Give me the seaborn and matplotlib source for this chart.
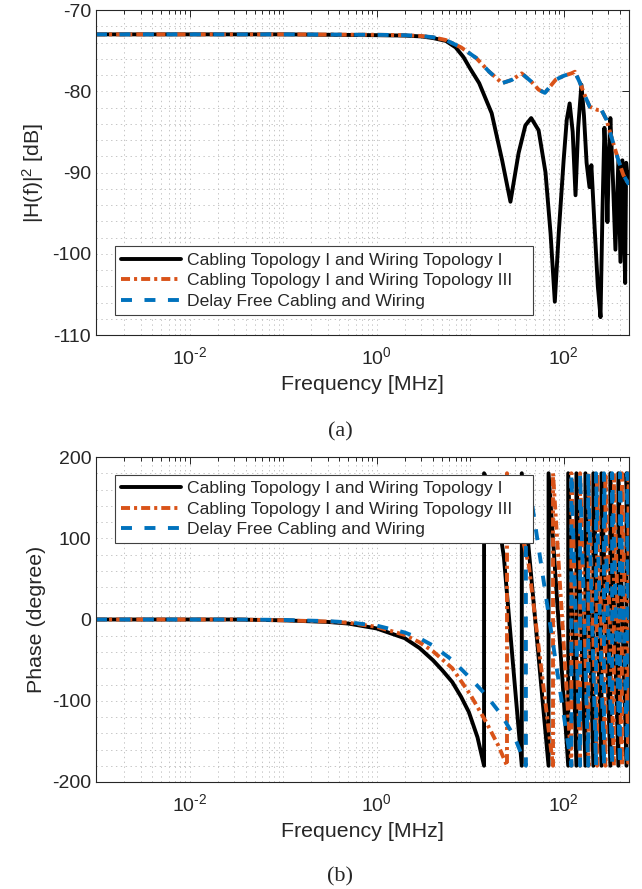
import numpy as np
import pandas as pd
import seaborn as sns
import matplotlib
matplotlib.use('Agg')
import matplotlib.pyplot as plt
from matplotlib.ticker import FixedLocator, FixedFormatter, LogLocator, MultipleLocator, NullFormatter

# series names / colours (MATLAB defaults)
names = ['Cabling Topology I and Wiring Topology I',
         'Cabling Topology I and Wiring Topology III',
         'Delay Free Cabling and Wiring']
colors = ['black', '#D95319', '#0072BD']

# (a) magnitude |H(f)|^2 in dB, frequency in MHz
mag_f_topo1 = [0.001, 0.1, 1, 2, 3, 4, 5.5, 7, 8.5, 10, 12.5, 17, 22, 27, 33, 39, 45, 54, 64,
               72.5, 80.5, 88.6, 100, 108, 116, 125, 134, 143, 155, 165, 176, 189, 198, 215,
               232, 248, 260, 273, 285, 294, 305, 316, 337, 358, 385, 405, 425, 455, 466, 490, 500]
mag_db_topo1 = [-73, -73, -73.1, -73.15, -73.25, -73.45, -73.8, -74.6, -75.8, -77.2, -79, -82.7,
                -88.5, -93.6, -87.6, -84.2, -83.3, -84.8, -90, -97.5, -105.9, -97.5, -88.5, -83.5,
                -81.5, -85, -92.8, -84.5, -79.2, -83, -88.8, -91.8, -89.1, -97, -104, -107.8, -95,
                -84.5, -89, -96.1, -88, -83.3, -91, -99.5, -88.5, -101, -88.5, -103.6, -88.8, -91.3, -90]

mag_f_topo3 = [0.001, 0.1, 1, 2, 3, 4, 5.5, 8, 11.6, 16, 22, 28, 35.6, 45, 54, 63, 82, 100,
               121, 132, 150, 171, 190, 208, 230, 254, 287, 324, 385, 435, 500]
mag_db_topo3 = [-73, -73, -73.05, -73.1, -73.2, -73.35, -73.7, -74.6, -75.9, -77.6, -79, -78.6,
                -77.8, -78.8, -79.8, -80.2, -78.6, -78.1, -77.8, -77.6, -79, -80.7, -81.9, -82.1,
                -82.3, -82.3, -83.5, -85.6, -88.5, -90.3, -91.5]

mag_f_free = list(mag_f_topo3)
mag_db_free = list(mag_db_topo3)

# (b) phase in degrees: smooth low-frequency part, then wrap frequencies (-180 -> 180)
ph_f_topo1 = [0.001, 0.03, 0.1, 0.3, 0.5, 1, 2, 2.87, 4, 5, 6.45, 8, 9.7, 12, 14.1,
              14.1, 17, 20, 23, 28.6, 35.7]
ph_deg_topo1 = [0, 0, -1, -3, -5, -11, -23, -35, -50, -62, -77, -95, -114, -145, -180,
                180, 160, 125, 76, -52, -180]
wrap_topo1 = [35.7, 69, 112, 137, 171, 208, 254, 316, 385, 470]

ph_f_topo3 = [0.001, 0.03, 0.1, 0.3, 0.5, 1, 2, 2.87, 4, 6.45, 10, 14.8, 20, 24.8,
              24.8, 28, 33, 42.4, 77]
ph_deg_topo3 = [0, 0, -1, -2.5, -4, -9, -19, -28, -39, -60, -92, -126, -155, -180,
                180, 160, 120, 67, -180]
wrap_topo3 = [77, 121, 150, 185, 228, 280, 345, 420, 495]

ph_f_free = [0.001, 0.03, 0.1, 0.3, 0.5, 1, 2, 2.87, 4, 6.45, 10, 14.8, 21.8, 30, 39.5,
             39.5, 42.4, 121]
ph_deg_free = [0, 0, -0.5, -2, -3.5, -7.5, -16, -23, -32, -50, -72, -93, -118, -145, -180,
               180, 169, -180]
wrap_free = [121, 150, 183, 222, 270, 330, 400, 480]
end_deg = [60, 150, 0]   # where each sawtooth is cut at 500 MHz

xtick_vals = [1e-2, 1, 1e2]
xtick_labels = [r'10$^{\text{-}2}$', r'10$^{0}$', r'10$^{2}$']


def phase_frame(f, deg, wraps, last):
    ff, dd = list(f), list(deg)
    for a, b in zip(wraps[:-1], wraps[1:]):
        ff += [a, b]
        dd += [180, -180]
    ff += [wraps[-1], 500]
    dd += [180, last]
    return pd.DataFrame({'f': ff, 'v': dd})


mag_frames = [pd.DataFrame({'f': mag_f_topo1, 'v': mag_db_topo1}),
              pd.DataFrame({'f': mag_f_topo3, 'v': mag_db_topo3}),
              pd.DataFrame({'f': mag_f_free, 'v': mag_db_free})]
ph_frames = [phase_frame(ph_f_topo1, ph_deg_topo1, wrap_topo1, end_deg[0]),
             phase_frame(ph_f_topo3, ph_deg_topo3, wrap_topo3, end_deg[1]),
             phase_frame(ph_f_free, ph_deg_free, wrap_free, end_deg[2])]

dash_styles = ['-', (0, (6.5, 2.9, 2.2, 2.9)), (0, (7.9, 9.0))]

sns.set_style('white')
plt.rcParams['font.family'] = ['Liberation Sans', 'DejaVu Sans']
plt.rcParams['mathtext.fontset'] = 'custom'
plt.rcParams['mathtext.rm'] = 'Liberation Sans'
plt.rcParams['mathtext.it'] = 'Liberation Sans:italic'
plt.rcParams['axes.unicode_minus'] = False
plt.rcParams['lines.scale_dashes'] = False
txt = '#262626'

fig = plt.figure(figsize=(6.42, 8.89), dpi=100)
ax1 = fig.add_axes([96/642, 1-335/889, 533/642, 325/889])
ax2 = fig.add_axes([96/642, 1-782/889, 533/642, 325/889])

for ax, frames in [(ax1, mag_frames), (ax2, ph_frames)]:
    for df, name, c, ls in zip(frames, names, colors, dash_styles):
        sns.lineplot(data=df, x='f', y='v', ax=ax, color=c, lw=2.8, sort=False,
                     estimator=None, label=name + '   ', legend=False)
        ax.lines[-1].set_linestyle(ls)
    ax.set_xscale('log')
    ax.set_xlim(1e-3, 500)
    ax.xaxis.set_major_locator(FixedLocator(xtick_vals))
    ax.xaxis.set_major_formatter(FixedFormatter(xtick_labels))
    ax.xaxis.set_minor_locator(LogLocator(base=10, subs=np.arange(1, 10), numticks=100))
    ax.xaxis.set_minor_formatter(NullFormatter())
    ax.grid(which='both', ls=(0, (1, 2.5)), color='#bcbcbc', lw=0.6)
    ax.tick_params(which='both', direction='in', top=True, right=True, colors=txt,
                   labelsize=14, width=0.7)
    ax.tick_params(which='major', length=5)
    ax.tick_params(which='minor', length=3)
    ax.tick_params(axis='x', pad=8)
    ax.tick_params(axis='y', which='minor', length=0)
    for s in ax.spines.values():
        s.set_color(txt)
        s.set_linewidth(0.8)
    ax.set_xlabel('Frequency [MHz]', fontsize=15.4, color=txt, labelpad=5)

ax1.set_ylim(-110, -70)
ax1.set_yticks([-110, -100, -90, -80, -70])
ax1.yaxis.set_minor_locator(MultipleLocator(2))
ax1.set_ylabel(r'|H(f)|$^{\mathrm{2}}$ [dB]', fontsize=15.4, color=txt)

ax2.set_ylim(-200, 200)
ax2.set_yticks([-200, -100, 0, 100, 200])
ax2.yaxis.set_minor_locator(MultipleLocator(20))
ax2.set_ylabel('Phase (degree)', fontsize=15.4, color=txt)

leg_kw = dict(fontsize=12.6, handlelength=3.4, handletextpad=0.35, labelspacing=0.3,
              borderpad=0.35, borderaxespad=0, fancybox=False, framealpha=1,
              edgecolor='#404040')
l1 = ax1.legend(loc='lower left', bbox_to_anchor=(0.036, 0.062), **leg_kw)
l2 = ax2.legend(loc='upper left', bbox_to_anchor=(0.036, 0.945), **leg_kw)
for lg in (l1, l2):
    lg.get_frame().set_linewidth(0.8)

fig.text(0.53, 1-432/889, '(a)', ha='center', va='center', fontsize=16,
         family=['Liberation Serif', 'DejaVu Serif'])
fig.text(0.53, 1-877/889, '(b)', ha='center', va='center', fontsize=16,
         family=['Liberation Serif', 'DejaVu Serif'])

fig.savefig('out.png', dpi=100)
